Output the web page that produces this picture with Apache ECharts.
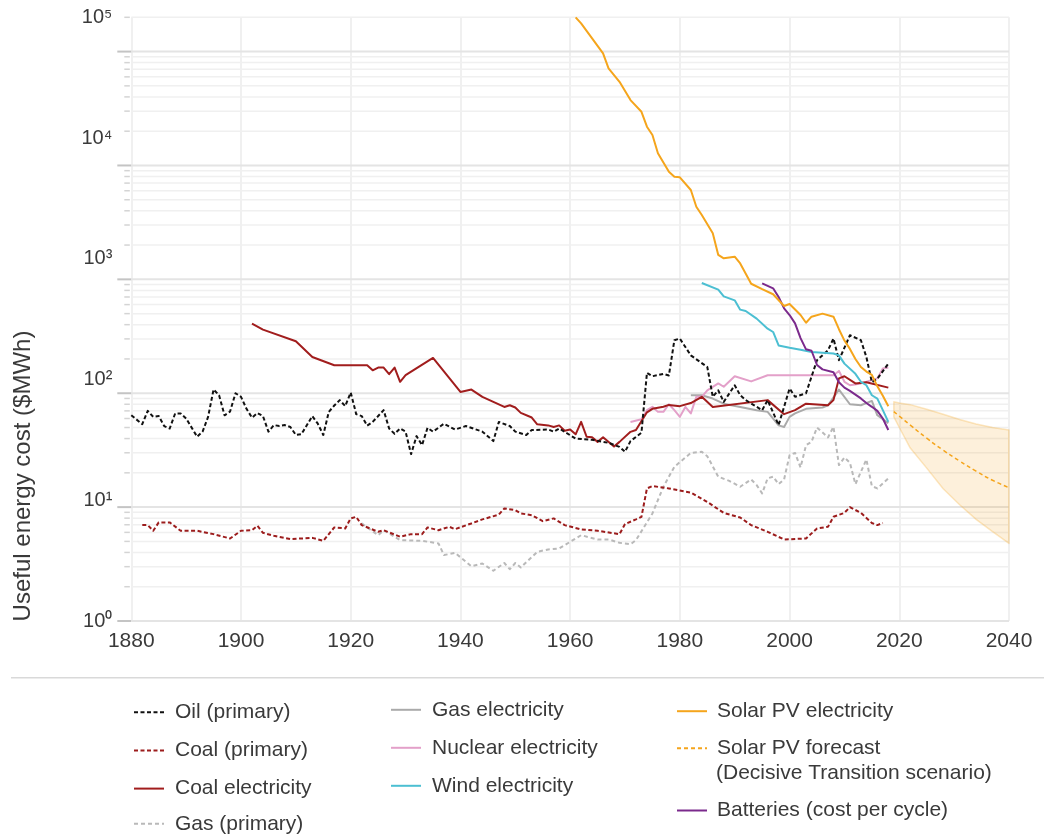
<!DOCTYPE html>
<html><head><meta charset="utf-8">
<script src="https://cdn.jsdelivr.net/npm/echarts@6/dist/echarts.min.js"></script>
<style>html,body{margin:0;padding:0;background:#fff}#c{width:1044px;height:834px}</style>
</head><body><div id="c"></div>
<script>
// ---------- data (years, values in $/MWh) ----------
var oilYears = [1880,1882,1883,1884,1885,1886,1887,1888,1889,1890,1892,1893,1894,1895,1896,1897,1898,1899,1900,1901,1902,1903,1904,1905,1906,1907,1908,1909,1910,1911,1913,1914,1915,1916,1917,1918,1919,1920,1921,1922,1923,1924,1926,1927,1928,1929,1930,1931,1932,1933,1934,1935,1937,1939,1941,1944,1946,1947,1949,1950,1952,1953,1956,1957,1958,1961,1964,1967,1969,1970,1971,1973,1974,1975,1977,1978,1979,1980,1982,1985,1986,1987,1988,1990,1991,1992,1995,1996,1998,2000,2001,2003,2005,2007,2008,2009,2011,2013,2014,2015,2016,2018];
var oilValues = [64,53.5,70,62,63,51.5,49,66.5,66.5,60,41.5,46,62,108,96,64,69,100,93,73,61,67,63,46,52.5,51.5,52.5,50.5,43,43.6,63,54,43,68.6,78,87,77,101.5,65.5,63,52,56,71,49,44,49,46,29.2,42,35,49.7,46,54,48,51.5,46,38,56,51.5,46,43,47.5,48,46,49,40,39,36.7,33.8,30.6,38,45,151,141,148,143,292,302,215,170,93,106,84,117.5,96,87,71,87,52.5,110,93,100,195,238,302,195,323,292,208,125,134,182];

var coalPrimYears = [1882,1883,1884,1885,1887,1889,1892,1895,1898,1900,1902,1903,1904,1906,1909,1913,1915,1917,1919,1920,1921,1922,1925,1926,1929,1931,1933,1934,1936,1938,1939,1942,1944,1947,1948,1950,1951,1953,1955,1957,1959,1962,1965,1969,1970,1972,1973,1974,1975,1978,1982,1985,1988,1991,1993,1996,1999,2003,2005,2007,2008,2010,2011,2013,2015,2016,2017];
var coalPrimValues = [6.95,6.95,6.2,7.34,7.34,6.2,6.2,5.79,5.3,6.2,6.27,6.85,5.95,5.6,5.24,5.37,5.06,6.63,6.5,7.96,8.22,6.95,6.07,6.27,5.49,5.79,5.79,6.63,6.27,6.72,6.4,7.19,7.8,8.6,9.74,9.4,8.8,8.5,7.53,7.96,6.95,6.37,6.2,5.79,7.1,7.8,8.22,14.6,15.3,14.6,13.4,11.1,8.9,8.1,6.95,6.07,5.2,5.3,6.5,6.72,8.22,8.9,10,8.9,7.26,6.95,7.26];

var coalElecYears = [1902,1904,1910,1913,1917,1923,1924,1925,1926,1927,1928,1929,1930,1935,1940,1942,1944,1948,1949,1950,1951,1953,1954,1956,1957,1958,1959,1960,1961,1962,1963,1964,1965,1966,1968,1969,1971,1972,1974,1975,1977,1978,1980,1982,1984,1986,1996,1999,2001,2003,2007,2008,2009,2010,2012,2014,2018];
var coalElecValues = [409,362,286,208,176,176,159,168,168,147,168,126,144,204,102.6,107.7,92.8,75.8,78.4,74.9,67.2,61.2,53.4,52.2,50.6,52.2,46.8,48,43.6,56,41.5,41,37.4,41,34,37.4,45.8,47.5,68,73,76,79,77,82,93,75.8,87,65.5,71,81,78.4,87,135,141,122,125,112];

var gasPrimYears = [1922,1925,1926,1929,1933,1936,1937,1939,1942,1944,1946,1948,1949,1950,1951,1954,1956,1958,1960,1962,1965,1967,1969,1971,1972,1975,1977,1979,1982,1984,1985,1987,1989,1991,1993,1994,1995,1996,1997,1998,1999,2000,2001,2002,2003,2004,2005,2007,2008,2009,2010,2011,2012,2014,2015,2016,2018];
var gasPrimValues = [7.19,5.67,6.27,5.13,5.06,4.8,3.79,3.97,3.02,3.2,2.76,3.23,2.85,3.23,2.95,4.05,4.25,4.33,4.96,5.67,5.2,5.2,4.86,4.72,5.13,8.8,15.1,22.6,29.9,30.6,28,18.5,17,15.1,17.5,15.6,13.2,17.9,18.5,15.9,17.5,28.6,29.9,22.3,35,37.4,50,40.9,50.8,23.4,27.3,24.5,15.9,26.2,15.3,14.6,17.9];

var gasElecYears = [1982,1984,1986,1988,1991,1994,1996,1998,1999,2000,2001,2003,2006,2007,2009,2011,2013,2015,2016,2018];
var gasElecValues = [96,96,89.8,81,75.8,71,68.6,52.2,50.6,62,66.5,73,75,78.4,107.7,80,78.4,85.6,64,54.7];

var nuclearYears = [1971,1973,1974,1975,1976,1977,1978,1979,1980,1981,1982,1983,1984,1985,1987,1988,1990,1993,1996,2008,2009,2010,2011,2013,2016,2017,2018];
var nuclearValues = [56,59,71,76,68.6,68.6,80,71,62,75.8,66.5,93,93,106,122,114,141,127,144,144,157,126,117.5,122,135,165,168];

var windYears = [1984,1987,1988,1990,1991,1992,1994,1996,1997,1998,2000,2002,2004,2008,2009,2010,2012,2013,2014,2015,2016,2017,2018];
var windValues = [928,812,709,654,542,527,452,369,345,263,251,241,230,223,215,182,148,126,117.5,96,89.8,71,56];

var solarYears = [1961,1962,1964,1966,1967,1969,1971,1973,1974,1975,1976,1978,1979,1980,1982,1983,1984,1986,1987,1988,1990,1991,1993,1995,1997,1999,2000,2002,2003,2004,2006,2008,2009,2010,2011,2012,2013,2014,2015,2016,2017,2018];
var solarValues = [200000,176900,130600,96400,71100,54300,37500,29600,21900,18500,12800,8800,7960,7870,6090,4340,3670,2540,1640,1530,1580,1380,915,820,740,583,607,486,416,470,500,470,365,290,245,200,170,155,145,115,95,77];

var batteryYears = [1995,1997,1998,1999,2000,2001,2002,2003,2004,2005,2006,2008,2009,2010,2011,2013,2014,2015,2016,2017,2018];
var batteryValues = [922,834,700,556,486,411,305,243,236,177,162,153,125,112,105,90,82,76,70,60,47.5];

var forecastYears = [2019,2020,2022,2025,2028,2031,2034,2037,2040];
var forecastValues = [69,63,52.5,40.3,31.6,25.4,20.7,17.2,14.8];
var forecastUpper = [84,82,79.4,72.4,65.3,58.9,53.7,50.1,47.5];
var forecastLower = [62,50,33,22,14.5,10.5,7.8,6.1,4.8];

// axis ticks
var xTicks = [1880,1900,1920,1940,1960,1980,2000,2020,2040];
var majorTicks = [1,10,100,1000,10000,100000];
var minorMultipliers = [2,3,4,5,6,7,8,9];
var supers = ['\u2070','\u00b9','\u00b2','\u00b3','\u2074','\u2075'];

// ---------- build ----------
function pairs(xs, ys){ return xs.map(function(x,i){ return [x, ys[i]]; }); }
var gridTicks = [];
majorTicks.forEach(function(m){
  gridTicks.push([1880, m, 1]);
  minorMultipliers.forEach(function(k){ if (m*k <= 200000) gridTicks.push([1880, m*k, 0]); });
});

var FONT = '"Liberation Sans", Arial, Helvetica, sans-serif';
var TXT = '#3a3a3a';

function lineSeries(name, xs, ys, color, width, dash, z){
  return {
    name: name, type: 'line', data: pairs(xs, ys), symbol: 'none',
    xAxisIndex: 0, yAxisIndex: 0, z: z || 3,
    lineStyle: { color: color, width: width, type: dash || 'solid', join: 'round' },
    itemStyle: { color: color },
    emphasis: { disabled: true }, silent: true
  };
}

function legendBox(names, left, top, gap, pad){
  return { data: names, orient: 'vertical', left: left, top: top, padding: 0, height: 300,
    itemWidth: 30, itemHeight: 14, itemGap: gap, selectedMode: false,
    itemStyle: { opacity: 0, borderWidth: 0 },
    textStyle: { fontSize: 21, color: TXT, lineHeight: 20, padding: [0,0,0,pad], fontFamily: FONT } };
}

var chart = echarts.init(document.getElementById('c'), null, {renderer: 'canvas'});
var option = {
  animation: false,
  backgroundColor: '#ffffff',
  textStyle: { fontFamily: FONT },
  grid: { left: 131.3, right: 35, top: 17.3, bottom: 213, containLabel: false },
  xAxis: {
    type: 'value', min: xTicks[0], max: xTicks[xTicks.length-1], interval: 20,
    axisLine: { show: false }, axisTick: { show: false },
    axisLabel: { fontSize: 21, color: TXT, margin: 10, fontFamily: FONT,
      formatter: function(v){ return String(v); } },
    splitLine: { show: true, lineStyle: { color: '#ebebeb', width: 1.5 } }
  },
  yAxis: [
    { type: 'log', logBase: 10, min: 1, max: 200000,
      axisLine: { show: false }, axisTick: { show: false }, axisLabel: { show: false },
      splitLine: { show: false } },
    { type: 'log', logBase: 10, min: majorTicks[0], max: majorTicks[majorTicks.length-1], position: 'left',
      axisLine: { show: false }, axisTick: { show: false }, splitLine: { show: false },
      axisLabel: { fontSize: 20, color: TXT, margin: 19, fontFamily: FONT, padding: [6,0,0,0],
        formatter: function(v){ var k = Math.round(Math.log(v)/Math.LN10); return '10' + supers[k]; } } }
  ],
  legend: [
    legendBox(['Oil (primary)','Coal (primary)','Coal electricity'], 133, 701.7, 17.2, 6),
    legendBox(['Gas (primary)'], 133, 813.3, 17.2, 6),
    legendBox(['Gas electricity','Nuclear electricity','Wind electricity'], 390, 699.3, 17, 6),
    legendBox(['Solar PV electricity','Solar PV forecast'], 676, 700.7, 16, 5),
    legendBox(['Batteries (cost per cycle)'], 676, 800, 10, 5)
  ],
  graphic: [
    { type: 'text', x: 23, y: 476, rotation: Math.PI/2, silent: true,
      style: { text: 'Useful energy cost ($MWh)', fontSize: 24, fill: TXT, fontFamily: FONT,
               textAlign: 'center', textVerticalAlign: 'middle' } },
    { type: 'line', silent: true, shape: { x1: 11, y1: 677.7, x2: 1044, y2: 677.7 },
      style: { stroke: '#d9d9d9', lineWidth: 1.5 } },
    { type: 'text', x: 716, y: 773, silent: true,
      style: { text: '(Decisive Transition scenario)', fontSize: 21, fill: TXT, fontFamily: FONT,
               textAlign: 'left', textVerticalAlign: 'middle' } }
  ],
  series: [
    { type: 'custom', name: 'grid', silent: true, z: 0, clip: false, data: gridTicks,
      renderItem: function(params, api){
        var v = api.value(1), major = api.value(2) === 1;
        var p = api.coord([1880, v]);
        var cs = params.coordSys;
        return { type: 'group', children: [
          { type: 'line', shape: { x1: cs.x - (major ? 14 : 7), y1: p[1], x2: cs.x - (major ? 0 : 1.5), y2: p[1] },
            style: { stroke: major ? '#c4c4c4' : '#d4d4d4', lineWidth: major ? 2 : 1.5 } },
          { type: 'line', shape: { x1: cs.x, y1: p[1], x2: cs.x + cs.width, y2: p[1] },
            style: { stroke: major ? '#e4e4e4' : '#f0f0f0', lineWidth: major ? 2 : 1.5 } }
        ]};
      } },
    { type: 'custom', name: 'forecastBand', silent: true, z: 1, data: [[2030, 30]],
      renderItem: function(params, api){
        var pts = [];
        for (var i = 0; i < forecastYears.length; i++) pts.push(api.coord([forecastYears[i], forecastUpper[i]]));
        for (var j = forecastYears.length - 1; j >= 0; j--) pts.push(api.coord([forecastYears[j], forecastLower[j]]));
        return { type: 'polygon', shape: { points: pts },
          style: { fill: 'rgba(246,168,40,0.17)', stroke: 'rgba(246,168,40,0.28)', lineWidth: 1.5, lineJoin: 'round' } };
      } },
    lineSeries('Gas (primary)', gasPrimYears, gasPrimValues, '#b9b9b9', 2, [4,3]),
    lineSeries('Coal (primary)', coalPrimYears, coalPrimValues, '#9c1c1c', 2, [4,2.5]),
    lineSeries('Gas electricity', gasElecYears, gasElecValues, '#aaaaaa', 2),
    lineSeries('Nuclear electricity', nuclearYears, nuclearValues, '#e3a0c9', 2),
    lineSeries('Coal electricity', coalElecYears, coalElecValues, '#a11d1d', 2),
    lineSeries('Oil (primary)', oilYears, oilValues, '#111111', 2, [4,2.5]),
    lineSeries('Wind electricity', windYears, windValues, '#4cbfd2', 2),
    lineSeries('Batteries (cost per cycle)', batteryYears, batteryValues, '#7b2a8c', 2),
    lineSeries('Solar PV electricity', solarYears, solarValues, '#f5a51c', 2),
    (function(){ var s = lineSeries('Solar PV forecast', forecastYears, forecastValues, '#f5a51c', 1.5, [4,3]); s.smooth = true; return s; })()
  ]
};
chart.setOption(option);
</script></body></html>
